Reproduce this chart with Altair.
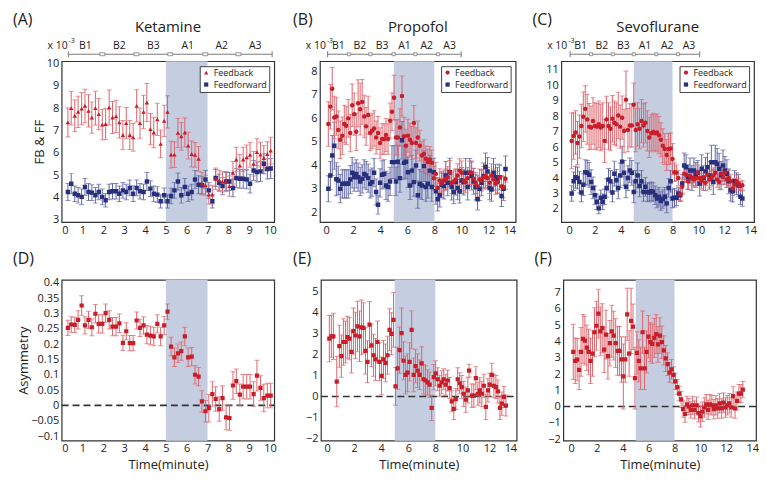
import altair as alt
import pandas as pd

FONT = "Open Sans"
RED = "#c81e2a"
RED_ERR = "#e0646c"
BLUE = "#28307e"
BLUE_ERR = "#6065a3"
SHADE = "#c5cee0"
GRAY = "#7a7a7a"
TXT = "#222222"

# ---------------- Ketamine ----------------
ket_t = [0.3,0.46,0.63,0.79,0.96,1.12,1.29,1.45,1.62,1.78,1.95,2.11,2.28,2.44,2.61,2.77,2.94,3.1,3.27,3.43,
         3.6,3.76,3.93,4.09,4.26,4.42,4.59,4.75,4.92,5.08,5.25,5.41,5.58,5.74,5.91,6.07,6.24,6.4,6.57,6.73,
         6.9,7.06,7.23,7.39,7.56,7.72,7.89,8.05,8.22,8.38,8.55,8.71,8.88,9.04,9.21,9.37,9.54,9.7,9.87,10.03]
ket_fb = [7.36,8.0,7.66,7.83,7.98,8.1,7.88,7.58,8.0,7.73,
          7.26,7.29,8.03,7.58,7.63,7.36,6.8,7.33,6.8,6.69,
          8.1,7.33,7.83,8.25,7.06,6.91,7.5,6.4,7.43,7.83,
          5.92,5.92,6.89,6.74,6.91,6.32,5.95,5.91,5.73,4.62,
          4.55,4.13,4.13,4.84,4.77,4.7,4.72,4.51,5.11,5.7,
          5.43,5.7,5.8,5.91,5.51,6.03,5.92,5.77,5.95,6.1]
ket_fb_err = [0.65,0.75,0.7,0.7,0.72,0.75,0.72,0.7,0.75,0.7,
              0.68,0.7,0.78,0.72,0.72,0.7,0.65,0.7,0.65,0.62,
              0.72,0.68,0.75,0.85,0.7,0.68,0.72,0.62,0.7,0.72,
              0.6,0.58,0.65,0.62,0.65,0.6,0.58,0.55,0.55,0.5,
              0.45,0.42,0.42,0.48,0.45,0.45,0.45,0.45,0.5,0.55,
              0.5,0.55,0.55,0.55,0.55,0.6,0.55,0.55,0.55,0.6]
ket_ff = [4.25,4.62,4.17,4.1,4.03,4.47,4.25,4.22,4.1,4.25,
          4.03,3.88,4.25,4.28,4.28,4.17,4.32,4.25,4.43,4.17,
          4.43,4.28,4.25,4.72,4.4,4.17,4.13,3.83,4.1,3.83,
          4.07,4.32,4.72,4.1,4.47,4.17,4.25,4.81,4.57,4.55,
          4.81,4.32,3.83,4.87,4.66,4.51,4.72,4.72,4.43,4.87,
          4.84,4.84,4.81,4.62,5.21,5.14,5.17,5.51,5.28,5.3]
ket_ff_err = [0.38,0.45,0.35,0.35,0.35,0.38,0.38,0.35,0.35,0.35,
              0.35,0.3,0.35,0.35,0.35,0.35,0.35,0.35,0.35,0.35,
              0.35,0.35,0.35,0.4,0.35,0.35,0.35,0.3,0.33,0.3,
              0.35,0.35,0.38,0.35,0.38,0.35,0.35,0.4,0.4,0.38,
              0.4,0.35,0.3,0.38,0.38,0.38,0.4,0.4,0.4,0.42,
              0.42,0.42,0.42,0.42,0.45,0.45,0.45,0.45,0.45,0.45]
ket_asym = [0.253,0.264,0.263,0.279,0.326,0.261,0.279,0.255,0.299,0.266,
            0.266,0.301,0.279,0.257,0.257,0.268,0.204,0.242,0.203,0.203,
            0.277,0.253,0.261,0.231,0.228,0.225,0.266,0.225,0.261,0.306,
            0.192,0.157,0.17,0.177,0.225,0.157,0.159,0.1,0.094,0.013,
            -0.019,-0.009,0.037,0.021,-0.012,0.024,-0.039,-0.041,0.065,0.079,
            0.035,0.061,0.061,0.061,0.037,0.097,0.057,0.024,0.032,0.032]
ket_asym_err = [0.025,0.025,0.025,0.03,0.032,0.028,0.028,0.028,0.03,0.03,
                0.03,0.03,0.03,0.03,0.03,0.03,0.025,0.028,0.025,0.025,
                0.028,0.028,0.028,0.03,0.03,0.03,0.03,0.03,0.03,0.025,
                0.03,0.03,0.03,0.03,0.03,0.03,0.03,0.03,0.03,0.035,
                0.035,0.045,0.04,0.04,0.04,0.04,0.04,0.04,0.045,0.04,
                0.035,0.04,0.04,0.04,0.04,0.05,0.04,0.045,0.04,0.04]

# ---------------- Propofol ----------------
pro_t = [0.17,0.32,0.46,0.61,0.76,0.9,1.05,1.2,1.35,1.49,1.64,1.79,1.93,2.08,2.23,2.37,2.52,2.67,2.82,2.96,
         3.11,3.26,3.4,3.55,3.7,3.84,3.99,4.14,4.29,4.43,4.58,4.73,4.87,5.02,5.17,5.31,5.46,5.61,5.76,5.9,
         6.05,6.2,6.34,6.49,6.64,6.78,6.93,7.08,7.23,7.37,7.52,7.67,7.81,7.96,8.11,8.25,8.4,8.55,8.7,8.84,
         8.99,9.14,9.28,9.43,9.58,9.72,9.87,10.02,10.17,10.31,10.46,10.61,10.75,10.9,11.05,11.19,11.34,11.49,11.64,11.78,
         11.93,12.08,12.22,12.37,12.52,12.66,12.81,12.96,13.11,13.25]
pro_fb = [5.75,6.49,7.25,6.03,6.07,5.5,5.08,5.25,5.75,5.68,
          5.99,5.37,6.55,6.17,5.42,6.63,6.38,6.69,6.07,5.65,
          6.13,5.37,5.46,5.56,5.18,5.37,4.94,5.11,5.11,5.28,
          5.11,5.89,6.27,6.87,5.18,5.18,5.6,6.94,5.23,4.83,
          5.25,5.08,4.94,5.79,4.94,5.18,4.83,4.41,4.48,4.27,
          4.13,4.24,4.1,3.45,3.63,3.03,3.35,3.21,3.35,3.39,
          3.49,3.7,3.25,3.31,3.39,3.56,3.77,3.68,3.35,3.28,
          3.45,3.68,3.68,3.42,3.25,3.11,3.39,3.35,3.49,3.54,
          3.45,3.25,3.56,3.39,3.21,3.28,3.49,3.11,3.07,3.42]
pro_fb_err = [0.95,0.95,0.9,0.9,0.8,0.8,0.8,0.8,0.8,0.8,
              0.8,0.8,0.9,0.9,0.8,1.0,1.1,0.95,0.9,0.8,
              0.8,0.75,0.75,0.75,0.7,0.7,0.65,0.65,0.65,0.7,
              0.65,0.75,0.8,0.95,0.75,0.75,0.8,0.85,0.8,0.7,
              0.7,0.7,0.7,0.75,0.65,0.7,0.65,0.6,0.6,0.55,
              0.55,0.55,0.55,0.5,0.5,0.45,0.5,0.45,0.45,0.45,
              0.45,0.5,0.45,0.45,0.45,0.5,0.5,0.5,0.45,0.45,
              0.45,0.5,0.5,0.45,0.45,0.45,0.45,0.45,0.45,0.5,
              0.45,0.45,0.5,0.45,0.45,0.45,0.5,0.45,0.45,0.45]
pro_ff = [3.0,3.56,4.41,4.83,3.4,3.35,3.0,3.21,3.21,3.21,
          3.21,3.39,3.68,3.49,3.63,3.49,3.31,3.42,3.63,3.56,
          3.45,3.21,3.28,3.68,2.86,2.32,3.25,3.59,3.63,3.14,
          3.07,3.31,4.13,4.13,3.31,4.15,3.45,5.06,4.1,4.15,
          3.7,3.14,3.77,3.28,3.99,2.72,3.21,3.14,3.96,3.07,
          3.21,3.77,3.07,3.7,2.89,2.55,2.72,3.17,3.11,3.56,
          3.25,3.7,3.07,2.86,3.28,3.03,2.89,3.35,3.28,3.68,
          3.07,3.68,3.54,3.31,3.07,2.55,3.0,3.25,3.54,3.92,
          3.73,3.03,2.97,3.68,3.49,3.35,3.49,2.69,3.0,3.84]
pro_ff_err = [0.55,0.6,0.85,1.0,0.7,0.6,0.6,0.6,0.6,0.6,
              0.6,0.6,0.65,0.6,0.6,0.6,0.6,0.6,0.6,0.6,
              0.6,0.6,0.6,0.6,0.55,0.4,0.6,0.6,0.6,0.6,
              0.6,0.6,0.7,0.7,0.6,0.7,0.6,0.8,0.7,0.7,
              0.65,0.6,0.65,0.6,0.65,0.55,0.6,0.6,0.65,0.6,
              0.6,0.65,0.6,0.6,0.55,0.5,0.5,0.55,0.55,0.6,
              0.55,0.6,0.55,0.5,0.55,0.5,0.5,0.55,0.55,0.6,
              0.55,0.6,0.6,0.55,0.55,0.45,0.5,0.55,0.55,0.6,
              0.6,0.5,0.5,0.6,0.55,0.55,0.55,0.45,0.5,0.55]
pro_asym_t = [0.17,0.32,0.47,0.72,0.91,1.06,1.21,1.36,1.5,1.65,
              1.8,1.95,2.1,2.25,2.4,2.54,2.69,2.84,2.99,3.14,
              3.28,3.43,3.58,3.73,3.88,4.02,4.17,4.32,4.47,4.62,
              4.77,4.91,5.06,5.21,5.36,5.51,5.65,5.8,5.95,6.1,
              6.25,6.4,6.54,6.69,6.84,6.99,7.14,7.28,7.43,7.58,
              7.73,7.88,8.02,8.17,8.32,8.47,8.62,8.77,8.91,9.06,
              9.21,9.36,9.51,9.65,9.8,9.95,10.1,10.25,10.4,10.49,
              10.69,10.84,10.99,11.14,11.28,11.43,11.58,11.73,11.88,12.02,
              12.17,12.32,12.47,12.62,12.77,12.91,13.06,13.21]
pro_asym = [2.75,2.86,2.86,0.71,2.39,1.92,2.59,2.59,2.82,2.75,
            2.12,3.11,2.9,3.33,2.86,3.29,3.26,2.17,1.65,3.42,
            2.43,1.96,1.76,2.59,1.65,0.98,1.76,1.6,1.96,3.17,
            2.98,3.64,0.48,1.34,2.2,3.01,1.7,1.03,1.13,1.65,
            3.17,1.03,1.45,1.23,1.03,1.57,0.82,0.76,0.67,0.56,
            -0.54,0.92,1.1,0.82,0.51,0.67,0.82,0.56,0.76,0.4,
            -0.23,-0.59,-0.12,0.82,0.63,0.45,0.13,-0.15,0.29,1.23,
            0.04,0.04,0.87,0.13,0.29,0.13,0.51,-0.49,0.29,0.56,
            1.03,0.51,0.45,0.24,-0.54,-0.34,-0.02,-0.43]
pro_asym_err = [1.1,1.0,1.1,1.2,1.0,1.0,1.1,1.0,1.0,1.0,
                1.0,1.1,1.1,1.2,1.2,1.3,1.2,1.1,1.0,1.1,
                1.0,1.0,1.0,1.0,0.9,0.9,0.9,0.9,0.9,1.0,
                1.0,1.3,0.9,1.0,1.1,1.2,0.9,0.9,0.9,0.9,
                0.9,0.8,0.8,0.8,0.7,0.8,0.7,0.7,0.6,0.6,
                0.6,0.6,0.6,0.55,0.5,0.55,0.5,0.5,0.5,0.5,
                0.5,0.5,0.5,0.55,0.5,0.55,0.6,0.6,0.6,0.3,
                0.55,0.55,0.55,0.55,0.6,0.6,0.55,0.6,0.55,0.55,
                0.55,0.55,0.55,0.55,0.55,0.55,0.5,0.5]

# ---------------- Sevoflurane ----------------
sev_t = [0.2,0.35,0.5,0.65,0.8,0.95,1.1,1.25,1.4,1.55,1.7,1.85,2.0,2.15,2.3,2.45,2.6,2.75,2.9,3.05,
         3.2,3.35,3.5,3.65,3.8,3.95,4.1,4.25,4.4,4.55,4.7,4.85,5.0,5.15,5.3,5.45,5.6,5.75,5.9,6.05,
         6.2,6.35,6.5,6.65,6.8,6.95,7.1,7.25,7.4,7.55,7.7,7.85,8.0,8.15,8.3,8.45,8.6,8.75,8.9,9.05,
         9.2,9.35,9.5,9.65,9.8,9.95,10.1,10.25,10.4,10.55,10.7,10.85,11.0,11.15,11.3,11.45,11.6,11.75,11.9,12.05,
         12.2,12.35,12.5,12.65,12.8,12.95,13.1,13.25,13.4]
sev_fb = [6.4,6.72,6.94,6.26,6.68,7.36,7.96,8.47,7.79,7.32,
          7.26,7.68,7.36,7.32,7.47,7.26,7.36,6.4,7.79,7.36,
          7.19,7.83,7.57,7.47,8.04,7.32,7.9,7.04,9.06,7.1,
          7.4,7.4,8.74,7.1,7.47,7.19,7.68,7.4,7.57,7.04,
          6.62,6.89,6.98,6.89,6.94,6.77,6.47,6.09,5.87,5.49,
          5.87,5.91,5.23,4.38,4.34,4.0,2.95,3.43,4.28,4.21,
          3.79,4.13,4.0,3.91,4.0,4.34,4.0,3.79,4.06,3.7,
          4.21,3.91,4.0,4.17,4.34,3.91,3.74,4.28,4.06,4.34,
          3.91,4.0,3.79,3.32,3.57,3.79,3.64,3.49,3.53]
sev_fb_err = [1.8,1.5,1.4,1.4,1.4,1.4,1.6,1.5,1.6,1.5,
              1.4,1.5,1.5,1.5,1.5,1.5,1.5,1.4,1.5,1.5,
              1.4,1.5,1.4,1.4,1.5,1.4,1.4,1.4,1.85,1.4,
              1.4,1.4,1.4,1.4,1.4,1.3,1.4,1.4,1.3,1.3,
              1.3,1.2,1.2,1.2,1.2,1.2,1.1,1.1,1.0,1.0,
              1.0,1.0,1.0,0.6,0.5,0.5,0.4,0.5,0.5,0.5,
              0.5,0.5,0.5,0.5,0.5,0.5,0.5,0.5,0.5,0.5,
              0.5,0.5,0.5,0.5,0.5,0.5,0.5,0.5,0.5,0.5,
              0.5,0.5,0.45,0.45,0.4,0.4,0.35,0.3,0.3]
sev_ff = [3.0,3.79,4.06,4.0,3.74,3.06,3.57,4.38,4.34,4.21,
          3.74,3.36,2.89,2.47,2.04,2.72,2.47,2.79,3.36,3.91,
          3.79,3.06,4.28,3.85,3.36,4.17,5.06,4.34,3.43,4.0,
          4.49,4.34,3.1,3.79,4.17,3.49,3.79,3.1,3.43,3.1,
          3.06,3.15,3.1,2.89,2.68,2.79,2.51,2.64,2.79,2.36,
          3.36,3.79,2.68,2.72,2.72,3.0,2.89,3.64,4.81,4.7,
          4.06,4.49,4.0,4.49,4.21,4.34,3.64,4.6,4.0,4.43,
          4.7,4.17,5.02,3.74,5.02,4.91,4.6,4.17,4.81,4.49,
          4.28,3.79,3.21,3.15,3.79,3.64,3.53,2.79,2.68]
sev_ff_err = [0.5,0.6,0.7,0.7,0.7,0.6,0.7,0.8,0.8,0.8,
              0.8,0.7,0.6,0.5,0.35,0.5,0.5,0.5,0.6,0.7,
              0.7,0.6,0.8,0.7,0.7,0.8,1.0,0.8,0.7,0.8,
              0.8,0.8,0.7,0.7,0.8,0.7,0.7,0.6,0.6,0.6,
              0.6,0.6,0.6,0.6,0.6,0.6,0.6,0.6,0.6,0.6,
              0.6,0.7,0.6,0.6,0.5,0.4,0.4,0.6,0.8,0.8,
              0.8,0.8,0.8,0.8,0.8,0.8,0.8,0.9,0.8,0.9,
              0.9,0.9,1.1,0.8,1.1,1.0,1.0,0.9,1.0,0.9,
              0.9,0.8,0.7,0.7,0.7,0.7,0.7,0.5,0.5]
sev_asym_t = [0.17,0.32,0.47,0.62,0.77,0.92,1.07,1.22,1.36,1.51,
              1.66,1.81,1.96,2.11,2.26,2.41,2.56,2.7,2.85,3.0,
              3.15,3.3,3.45,3.6,3.75,3.9,4.04,4.19,4.34,4.49,
              4.64,4.79,4.94,5.09,5.24,5.38,5.53,5.68,5.83,5.98,
              6.13,6.28,6.43,6.58,6.72,6.87,7.02,7.17,7.32,7.47,
              7.62,7.77,7.92,8.06,8.21,8.36,8.51,8.66,8.81,8.96,
              9.11,9.26,9.4,9.55,9.7,9.85,10.0,10.15,10.3,10.45,
              10.6,10.74,10.89,11.04,11.19,11.34,11.49,11.64,11.79,11.94,
              12.08,12.23,12.38,12.53,12.68,12.83,12.98,13.13,13.28]
sev_asym = [3.36,2.81,2.89,2.25,3.36,4.16,4.06,3.62,3.36,2.81,
            3.26,4.57,4.97,5.71,4.63,4.83,3.5,4.42,3.1,3.9,
            4.63,4.36,3.9,3.42,3.42,2.9,1.85,2.9,5.67,3.26,
            5.27,4.91,1.75,3.3,2.81,2.35,4.57,2.35,3.36,4.3,
            3.96,3.86,4.22,4.46,3.82,4.36,3.96,3.46,2.96,2.61,
            2.09,2.29,1.95,1.55,1.2,0.8,0.44,-0.16,-0.46,0.14,
            0.0,-0.2,0.08,-0.2,0.08,-0.4,-0.61,-0.32,-0.06,0.14,
            -0.2,0.14,0.08,-0.16,0.08,-0.12,0.2,-0.12,0.24,-0.06,
            0.08,0.2,-0.06,0.64,-0.12,0.34,0.8,0.8,1.04]
sev_asym_err = [1.7,1.4,1.3,1.2,1.5,1.5,1.5,1.4,1.4,1.4,
                1.4,1.5,1.5,1.5,1.5,1.5,1.4,1.5,1.4,1.4,
                1.6,1.5,1.5,1.5,1.5,1.4,2.0,1.4,1.6,1.4,
                2.0,1.4,1.9,1.3,1.3,1.3,1.3,1.3,1.3,1.3,
                1.2,1.2,1.2,1.2,1.1,1.1,1.0,0.9,0.8,0.7,
                0.6,0.6,0.5,0.5,0.45,0.45,0.5,0.5,0.5,0.5,
                0.5,0.5,0.55,0.55,0.5,0.55,0.65,0.6,0.6,0.6,
                0.6,0.6,0.6,0.6,0.6,0.6,0.6,0.6,0.6,0.6,
                0.6,0.6,0.6,0.6,0.6,0.55,0.55,0.55,0.5]

# ---------------- phase bars / axes ----------------
phase_labels = ["B1", "B2", "B3", "A1", "A2", "A3"]
ket_bounds = [0.32, 1.95, 3.59, 5.21, 6.89, 8.48, 10.1]
pro_bounds = [0.12, 1.7, 3.28, 4.99, 6.6, 8.27, 9.98]
sev_bounds = [0.08, 1.7, 3.38, 5.0, 6.75, 8.43, 10.1]

ket_ticks = [0, 1, 2, 3, 4, 5, 6, 7, 8, 9, 10]
long_ticks = [0, 2, 4, 6, 8, 10, 12, 14]
ket_fb_yticks = [3, 4, 5, 6, 7, 8, 9, 10]
pro_fb_yticks = [2, 3, 4, 5, 6, 7, 8]
sev_fb_yticks = [2, 3, 4, 5, 6, 7, 8, 9, 10, 11]
ket_as_yticks = [-0.1, -0.05, 0, 0.05, 0.1, 0.15, 0.2, 0.25, 0.3, 0.35, 0.4]
pro_as_yticks = [-2, -1, 0, 1, 2, 3, 4, 5]
sev_as_yticks = [-2, -1, 0, 1, 2, 3, 4, 5, 6, 7]

TOP_H = 162
BOT_H = 162


def err_df(t, v, e):
    return pd.DataFrame({"t": t, "v": v, "lo": [a - b for a, b in zip(v, e)],
                         "hi": [a + b for a, b in zip(v, e)]})


def one():
    return pd.DataFrame({"k": [0]})


def base_axes(xdom, ydom, xticks, yticks, yfmt, ytitle, xtitle, ytitle_pad):
    xs = alt.Scale(domain=xdom, nice=False, zero=False)
    ys = alt.Scale(domain=ydom, nice=False, zero=False)
    xax = alt.Axis(values=xticks, title=xtitle, format="d", labelPadding=2,
                   titlePadding=5, titleFontSize=13, titleFont=FONT,
                   titleFontWeight="normal", titleColor=TXT)
    yax = alt.Axis(values=yticks, title=ytitle, format=yfmt, labelPadding=3,
                   titlePadding=ytitle_pad, titleFontSize=13, titleFont=FONT,
                   titleFontWeight="normal", titleColor=TXT)
    X = lambda f: alt.X(f, type="quantitative", scale=xs, axis=xax)
    Y = lambda f: alt.Y(f, type="quantitative", scale=ys, axis=yax)
    return X, Y


def errbars(df, X, Y, col):
    r = alt.Chart(df).mark_rule(color=col, strokeWidth=1, clip=True).encode(
        x=X("t"), y=Y("lo"), y2="hi")
    c1 = alt.Chart(df).mark_tick(color=col, orient="horizontal", size=5,
                                 thickness=1, clip=True).encode(x=X("t"), y=Y("lo"))
    c2 = alt.Chart(df).mark_tick(color=col, orient="horizontal", size=5,
                                 thickness=1, clip=True).encode(x=X("t"), y=Y("hi"))
    return [r, c1, c2]


def letter_layer(letter, dx, dy):
    return alt.Chart(one()).mark_text(text=letter, align="left", baseline="middle",
                                      fontSize=16, font=FONT, color=TXT).encode(
        x=alt.value(dx), y=alt.value(dy))


def shade_layer(X, a, b, h):
    return alt.Chart(pd.DataFrame({"t": [a], "t2": [b]})).mark_rect(color=SHADE).encode(
        x=X("t"), x2="t2", y=alt.value(0), y2=alt.value(h))


def top_panel(t, fb, fbe, ff, ffe, xdom, ydom, xticks, yticks, shade, bounds,
              fb_shape, letter, letter_dx, title, width, ytitle):
    X, Y = base_axes(xdom, ydom, xticks, yticks, "d", ytitle, None, 0)
    fbdf = err_df(t, fb, fbe).assign(s="Feedback")
    ffdf = err_df(t, ff, ffe).assign(s="Feedforward")
    pts = pd.concat([ffdf, fbdf], ignore_index=True)
    leg = alt.Legend(orient="top-right", title=None, labelFontSize=9, labelFont=FONT,
                     labelColor=TXT, symbolSize=18, padding=2, rowPadding=2,
                     strokeColor="#444", fillColor="white", offset=5,
                     labelOffset=3, symbolStrokeWidth=0)
    color = alt.Color("s:N", scale=alt.Scale(domain=["Feedback", "Feedforward"],
                                             range=[RED, BLUE]), legend=leg)
    shape = alt.Shape("s:N", scale=alt.Scale(domain=["Feedback", "Feedforward"],
                                             range=[fb_shape, "square"]), legend=leg)
    layers = [shade_layer(X, shade[0], shade[1], TOP_H)]
    layers += errbars(ffdf, X, Y, BLUE_ERR)
    layers += errbars(fbdf, X, Y, RED_ERR)
    layers.append(alt.Chart(pts).mark_point(filled=True, size=20, opacity=1, clip=True).encode(
        x=X("t"), y=Y("v"), color=color, shape=shape))
    # phase bar
    seg = pd.DataFrame({"t": bounds[:-1], "t2": bounds[1:], "lab": phase_labels})
    layers.append(alt.Chart(pd.DataFrame({"t": [bounds[0]], "t2": [bounds[-1]]})).mark_rule(
        color=GRAY, strokeWidth=1).encode(x=X("t"), x2="t2", y=alt.value(-7)))
    layers.append(alt.Chart(pd.DataFrame({"t": [bounds[0], bounds[-1]]})).mark_rule(
        color=GRAY, strokeWidth=1).encode(x=X("t"), y=alt.value(-10), y2=alt.value(-4)))
    layers.append(alt.Chart(pd.DataFrame({"t": bounds[1:-1]})).transform_calculate(
        a="datum.t - 0.12", b="datum.t + 0.12").mark_rect(
        fill="white", stroke=GRAY, strokeWidth=0.8).encode(
        x=X("a:Q"), x2="b:Q", y=alt.value(-8.5), y2=alt.value(-5.5)))
    layers.append(alt.Chart(seg).transform_calculate(c="(datum.t + datum.t2) / 2").mark_text(
        fontSize=10.5, font=FONT, color=TXT, baseline="middle", align="center").encode(
        x=X("c:Q"), y=alt.value(-15), text="lab:N"))
    layers.append(alt.Chart(one()).mark_text(text="x 10", fontSize=10.5, font=FONT, color=TXT,
                                             align="right", baseline="middle").encode(
        x=alt.value(6), y=alt.value(-15)))
    layers.append(alt.Chart(one()).mark_text(text="-3", fontSize=7, font=FONT, color=TXT,
                                             align="left", baseline="middle").encode(
        x=alt.value(7), y=alt.value(-20)))
    layers.append(alt.Chart(one()).mark_text(text=title, fontSize=15, font=FONT, color=TXT,
                                             align="center", baseline="middle").encode(
        x=alt.value(width / 2), y=alt.value(-34)))
    layers.append(letter_layer(letter, letter_dx, -41))
    return alt.layer(*layers).properties(width=width, height=TOP_H)


def bottom_panel(t, v, e, xdom, ydom, xticks, yticks, yfmt, shade, letter, letter_dx,
                 width, ytitle):
    X, Y = base_axes(xdom, ydom, xticks, yticks, yfmt, ytitle, "Time(minute)", 0)
    df = err_df(t, v, e)
    layers = [shade_layer(X, shade[0], shade[1], BOT_H)]
    layers.append(alt.Chart(pd.DataFrame({"t": [xdom[0]], "t2": [xdom[1]], "v": [0]})).mark_rule(
        color="#333333", strokeWidth=1.6, strokeDash=[7, 4]).encode(
        x=X("t"), x2="t2", y=Y("v")))
    layers += errbars(df, X, Y, RED_ERR)
    layers.append(alt.Chart(df).mark_point(filled=True, shape="square", size=18, color=RED,
                                           opacity=1, clip=True).encode(x=X("t"), y=Y("v")))
    layers.append(letter_layer(letter, letter_dx, -21))
    return alt.layer(*layers).properties(width=width, height=BOT_H)


A = top_panel(ket_t, ket_fb, ket_fb_err, ket_ff, ket_ff_err, [0, 10.2], [2.9, 10.1],
              ket_ticks, ket_fb_yticks, [5, 7], ket_bounds, "triangle-up", "(A)", -49,
              "Ketamine", 214, "FB & FF")
B = top_panel(pro_t, pro_fb, pro_fb_err, pro_ff, pro_ff_err, [-0.45, 14], [1.58, 8.42],
              long_ticks, pro_fb_yticks, [5, 8], pro_bounds, "circle", "(B)", -27,
              "Propofol", 197, None)
C = top_panel(sev_t, sev_fb, sev_fb_err, sev_ff, sev_ff_err, [-0.6, 14.3], [1.15, 11.55],
              long_ticks, sev_fb_yticks, [5, 8], sev_bounds, "circle", "(C)", -29,
              "Sevoflurane", 194, None)

D = bottom_panel(ket_t, ket_asym, ket_asym_err, [0, 10.2], [-0.115, 0.41], ket_ticks,
                 ket_as_yticks, ".2~f", [5, 7], "(D)", -49, 214, "Asymmetry")
E = bottom_panel(pro_asym_t, pro_asym, pro_asym_err, [-0.45, 14], [-2.1, 5.55], long_ticks,
                 pro_as_yticks, "d", [5, 8], "(E)", -28, 197, None)
F = bottom_panel(sev_asym_t, sev_asym, sev_asym_err, [-0.6, 14.3], [-2.1, 7.8], long_ticks,
                 sev_as_yticks, "d", [5, 8], "(F)", -29, 194, None)

top = alt.hconcat(A, B, C, spacing=15).resolve_scale(color="independent", shape="independent")
bot = alt.hconcat(D, E, F, spacing=15)

chart = alt.vconcat(top, bot, spacing=14).properties(
    padding={"left": 4, "top": 2, "right": 0, "bottom": 0}
).configure_view(stroke="#333333", strokeWidth=1.2).configure_axis(
    labelFont=FONT, labelFontSize=11, labelColor=TXT, ticks=False, domain=False, grid=False
)

chart.save("out.html", embed_options={"renderer": "svg", "actions": False})
